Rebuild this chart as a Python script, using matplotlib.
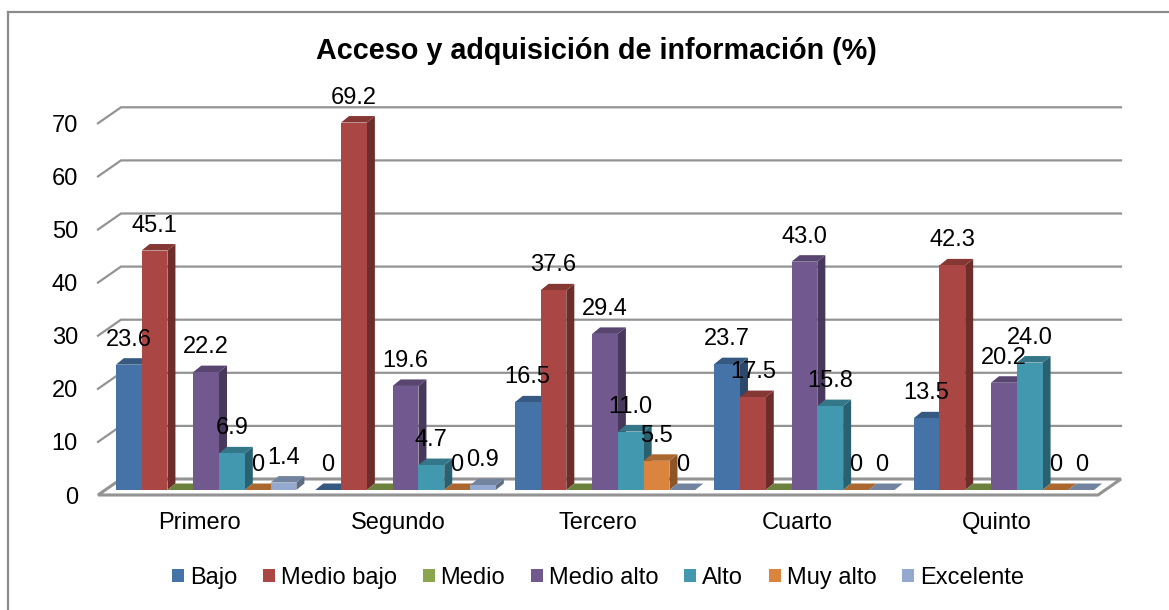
import matplotlib
matplotlib.use("Agg")
import matplotlib.pyplot as plt
from matplotlib.patches import Polygon, Patch
from matplotlib.lines import Line2D
import numpy as np

plt.rcParams['font.family'] = ['Liberation Sans', 'DejaVu Sans']

# ---------------- data ----------------
title = "Acceso y adquisición de información (%)"
categories = ["Primero", "Segundo", "Tercero", "Cuarto", "Quinto"]
series_names = ["Bajo", "Medio bajo", "Medio", "Medio alto", "Alto", "Muy alto", "Excelente"]
bajo = [23.6, 0, 16.5, 23.7, 13.5]
medio_bajo = [45.1, 69.2, 37.6, 17.5, 42.3]
medio = [None, None, None, None, None]          # empty cells (flat tiles, no label)
medio_alto = [22.2, 19.6, 29.4, 43.0, 20.2]
alto = [6.9, 4.7, 11.0, 15.8, 24.0]
muy_alto = [0, 0, 5.5, 0, 0]
excelente = [1.4, 0.9, 0, 0, 0]
yticks = [0, 10, 20, 30, 40, 50, 60, 70]

series = [bajo, medio_bajo, medio, medio_alto, alto, muy_alto, excelente]
colors = ["#4572A7", "#AA4643", "#89A54E", "#71588F", "#4198AF", "#DB843D", "#93A9CF"]

# ---------------- figure / geometry ----------------
W, H = 1169, 610
fig = plt.figure(figsize=(W / 100, H / 100), dpi=100)

px_per_unit_y = 5.31
ylim = (0, 75)
xlim = (-0.507, 4.507)
ax_left_px, ax_right_px, ax_bottom_px = 98, 1098, 495
px_per_unit_x = (ax_right_px - ax_left_px) / (xlim[1] - xlim[0])
ax = fig.add_axes([ax_left_px / W, (H - ax_bottom_px) / H,
                   (ax_right_px - ax_left_px) / W, (ylim[1] - ylim[0]) * px_per_unit_y / H])
ax.set_xlim(*xlim)
ax.set_ylim(*ylim)
for s in ax.spines.values():
    s.set_visible(False)

# depth offsets (data units)
DX = 23 / px_per_unit_x
DY = 16 / px_per_unit_y
BX = 7 / px_per_unit_x        # bar front plane offset
BY = 5 / px_per_unit_y
DDX = 8 / px_per_unit_x       # bar depth
DDY = 6.5 / px_per_unit_y

grid_col = "#939393"
FS = 17
# floor
floor = Polygon([(xlim[0], 0), (xlim[1], 0), (xlim[1] + DX, DY), (xlim[0] + DX, DY)],
                closed=True, facecolor="white", edgecolor=grid_col, lw=2.2, zorder=1,
                clip_on=False, joinstyle="miter")
ax.add_patch(floor)
# gridlines on wall
for v in yticks[1:]:
    ax.plot([xlim[0], xlim[0] + DX, xlim[1] + DX], [v, v + DY, v + DY],
            color=grid_col, lw=1.6, zorder=0.5, clip_on=False, solid_joinstyle="miter")


def shade(c, f):
    c = np.array(matplotlib.colors.to_rgb(c))
    return tuple(c * f)


n_ser = len(series)
group_half = 0.4526
bw = 2 * group_half / n_ser
z = 2
for k in range(len(categories)):
    for j, vals in enumerate(series):
        raw = vals[k]
        v = 0.0 if raw is None else float(raw)
        col = colors[j]
        xl = k - group_half + j * bw + BX
        xr = xl + bw
        base = BY
        top = base + v
        # side face
        if v > 0:
            ax.add_patch(Polygon([(xr, base), (xr + DDX, base + DDY), (xr + DDX, top + DDY), (xr, top)],
                                 closed=True, facecolor=shade(col, 0.64), edgecolor="none",
                                 zorder=z, clip_on=False))
        # top face
        ax.add_patch(Polygon([(xl, top), (xr, top), (xr + DDX, top + DDY), (xl + DDX, top + DDY)],
                             closed=True, facecolor=shade(col, 0.78), edgecolor="none",
                             zorder=z + 0.1, clip_on=False))
        # front face
        if v > 0:
            ax.bar(xl, v, width=bw, bottom=base, align="edge", color=col,
                   edgecolor="none", zorder=z + 0.2)
        z += 1
        if raw is not None:
            lab = "0" if v == 0 else f"{v:.1f}"
            ax.annotate(lab, xy=(xl + bw / 2, top), xytext=(0, 18), textcoords="offset points",
                        ha="center", va="center", fontsize=FS, color="black", zorder=500,
                        annotation_clip=False)

# axes ticks
ax.set_yticks(yticks)
ax.set_yticklabels([str(t) for t in yticks], fontsize=FS)
ax.tick_params(axis="y", length=0, pad=14.5)
ax.set_xticks(range(len(categories)))
ax.set_xticklabels(categories, fontsize=FS)
ax.tick_params(axis="x", length=0, pad=12)

# title
fig.text(596 / W, (H - 51) / H, title, ha="center", va="center", fontsize=20.7,
         fontweight="bold")

# legend
handles = [Patch(facecolor=c, edgecolor="none", label=n) for c, n in zip(colors, series_names)]
fig.legend(handles=handles, loc="center", bbox_to_anchor=(598 / W, (H - 578) / H), ncol=7,
           frameon=False, fontsize=FS, handlelength=0.5, handleheight=0.5,
           handletextpad=0.25, columnspacing=1.1, borderaxespad=0)

# chart border
bx0, by0 = 8 / W, (H - 12) / H
fig.add_artist(Line2D([bx0, bx0], [0, by0], color="#8c8c8c", lw=1.6, transform=fig.transFigure))
fig.add_artist(Line2D([bx0, 1], [by0, by0], color="#8c8c8c", lw=1.6, transform=fig.transFigure))

fig.savefig("out.png", dpi=100, facecolor="white")
